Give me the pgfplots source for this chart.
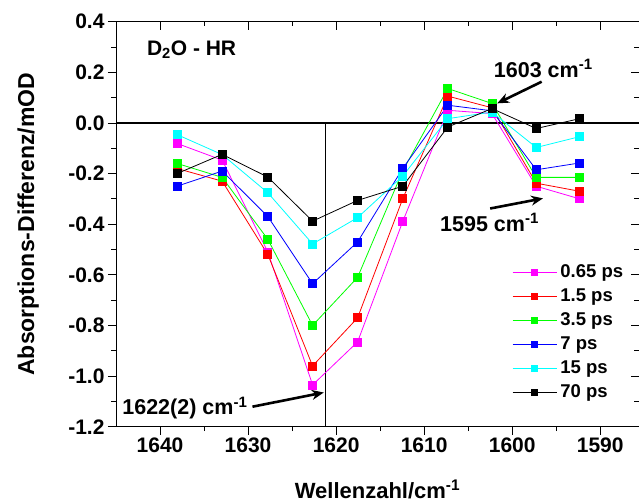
\documentclass[border=0pt]{standalone}
\usepackage{fontspec}
\setmainfont{Liberation Sans}
\usepackage{pgfplots}
\pgfplotsset{compat=1.18}
\usetikzlibrary{arrows.meta}
\definecolor{cMag}{RGB}{255,0,255}
\definecolor{cRed}{RGB}{255,0,0}
\definecolor{cGrn}{RGB}{0,255,0}
\definecolor{cBlu}{RGB}{0,0,255}
\definecolor{cCyn}{RGB}{0,255,255}
\newcommand{\tickf}{\fontsize{21}{25}\selectfont\bfseries}
\newcommand{\xlabf}{\fontsize{22}{26}\selectfont\bfseries}
\newcommand{\ylabf}{\fontsize{23}{27}\selectfont\bfseries}
\newcommand{\annf}{\fontsize{21.5}{26}\selectfont\bfseries}
\begin{document}
\begin{tikzpicture}
\begin{axis}[
  name=main,
  scale only axis, width=523pt, height=405pt,
  x dir=reverse,
  xmin=1585.6, xmax=1645, ymin=-1.2, ymax=0.4,
  xtick={1590,1600,1610,1620,1630,1640},
  ytick={-1.2,-1,-0.8,-0.6,-0.4,-0.2,0,0.2,0.4},
  minor x tick num=1, minor y tick num=1,
  tick align=outside, tick pos=left,
  major tick length=8pt, minor tick length=4.5pt,
  tick style={black, line width=0.8pt},
  axis line style={line width=0.9pt},
  /pgf/number format/assume math mode=true,
  ticklabel style={font=\tickf},
  xticklabel style={/pgf/number format/1000 sep={}},
  yticklabel style={/pgf/number format/fixed, /pgf/number format/fixed zerofill, /pgf/number format/precision=1},
  xlabel={Wellenzahl/cm\textsuperscript{-1}},
  ylabel={Absorptions-Differenz/mOD},
  xlabel style={font=\xlabf, at={(axis description cs:0.5,-0.155)}, anchor=center},
  ylabel style={font=\ylabf, at={(axis description cs:-0.168,0.5)}, anchor=center},
  every axis plot/.append style={line width=0.8pt, mark=square*, mark size=4pt, mark options={solid}},
  legend image code/.code={\draw[mark repeat=2, mark phase=2, #1, mark size=3pt] plot coordinates {(0pt,0pt) (22pt,0pt) (44pt,0pt)};},
  legend style={draw=none, fill=none, at={(0.757,0.41)}, anchor=north west, inner sep=0pt, row sep=0pt,
    font=\fontsize{18.5}{20}\selectfont\bfseries,
    nodes={inner sep=3.5pt, text height=13pt, text depth=4pt}},
  legend cell align=left,
]
\draw[line width=2pt] (axis cs:1645,0) -- (axis cs:1585.6,0);
\draw[line width=0.8pt] (axis cs:1621.2,0) -- (axis cs:1621.2,-1.2);

\addplot[color=cMag, mark options={fill=cMag, draw=cMag}] coordinates {
(1638.06,-0.081) (1632.94,-0.147) (1627.75,-0.51) (1622.67,-1.035) (1617.56,-0.865)
(1612.44,-0.39) (1607.31,0.05) (1602.30,0.037) (1597.27,-0.25) (1592.33,-0.30)};
\addlegendentry{0.65 ps}
\addplot[color=cRed, mark options={fill=cRed, draw=cRed}] coordinates {
(1638.06,-0.18) (1632.94,-0.23) (1627.75,-0.52) (1622.67,-0.96) (1617.56,-0.77)
(1612.44,-0.30) (1607.31,0.106) (1602.30,0.06) (1597.27,-0.238) (1592.33,-0.27)};
\addlegendentry{1.5 ps}
\addplot[color=cGrn, mark options={fill=cGrn, draw=cGrn}] coordinates {
(1638.06,-0.16) (1632.94,-0.215) (1627.75,-0.46) (1622.67,-0.80) (1617.56,-0.61)
(1612.44,-0.19) (1607.31,0.136) (1602.30,0.077) (1597.27,-0.215) (1592.33,-0.215)};
\addlegendentry{3.5 ps}
\addplot[color=cBlu, mark options={fill=cBlu, draw=cBlu}] coordinates {
(1638.06,-0.25) (1632.94,-0.19) (1627.75,-0.37) (1622.67,-0.635) (1617.56,-0.47)
(1612.44,-0.18) (1607.31,0.07) (1602.30,0.048) (1597.27,-0.185) (1592.33,-0.158)};
\addlegendentry{7 ps}
\addplot[color=cCyn, mark options={fill=cCyn, draw=cCyn}] coordinates {
(1638.06,-0.046) (1632.94,-0.125) (1627.75,-0.276) (1622.67,-0.478) (1617.56,-0.374)
(1612.44,-0.21) (1607.31,0.017) (1602.30,0.043) (1597.27,-0.097) (1592.33,-0.054)};
\addlegendentry{15 ps}
\addplot[color=black, mark options={fill=black, draw=black}] coordinates {
(1638.06,-0.20) (1632.94,-0.124) (1627.75,-0.214) (1622.67,-0.388) (1617.56,-0.306)
(1612.44,-0.25) (1607.31,-0.016) (1602.30,0.057) (1597.27,-0.022) (1592.33,0.017)};
\addlegendentry{70 ps}

\node[anchor=west, inner sep=0pt, font=\fontsize{21}{25}\selectfont\bfseries] at (axis cs:1641.5,0.29) {D\textsubscript{2}O - HR};
\node[anchor=west, inner sep=0pt, font=\annf] at (axis cs:1602.1,0.215) {1603 cm\textsuperscript{-1}};
\node[anchor=west, inner sep=0pt, font=\annf] at (axis cs:1608.2,-0.392) {1595 cm\textsuperscript{-1}};
\node[anchor=west, inner sep=0pt, font=\annf] at (axis cs:1644.3,-1.127) {1622(2) cm\textsuperscript{-1}};
\draw[line width=2.6pt, -{Stealth[length=12pt, width=10pt]}] (axis cs:1596.65,0.163) -- (axis cs:1601.7,0.0775);
\draw[line width=2.6pt, -{Stealth[length=12pt, width=10pt]}] (axis cs:1602.5,-0.338) -- (axis cs:1596.5,-0.298);
\draw[line width=2.6pt, -{Stealth[length=12pt, width=10pt]}] (axis cs:1629.5,-1.121) -- (axis cs:1621.4,-1.065);
\end{axis}
\begin{axis}[
  at={(main.south west)}, anchor=south west,
  scale only axis, width=523pt, height=405pt,
  x dir=reverse,
  xmin=1585.6, xmax=1645, ymin=-1.2, ymax=0.4,
  xtick={1590,1600,1610,1620,1630,1640},
  ytick={-1.2,-1,-0.8,-0.6,-0.4,-0.2,0,0.2,0.4},
  minor x tick num=1, minor y tick num=1,
  tick align=inside, tick pos=right,
  major tick length=8pt, minor tick length=4.5pt,
  tick style={black, line width=0.8pt},
  axis line style={line width=0.9pt},
  xticklabels={}, yticklabels={},
]
\end{axis}
\pgfresetboundingbox
\path ([shift={(-116pt,-77.3pt)}]main.south west) rectangle ([shift={(0pt,21.7pt)}]main.north east);
\end{tikzpicture}
\end{document}
